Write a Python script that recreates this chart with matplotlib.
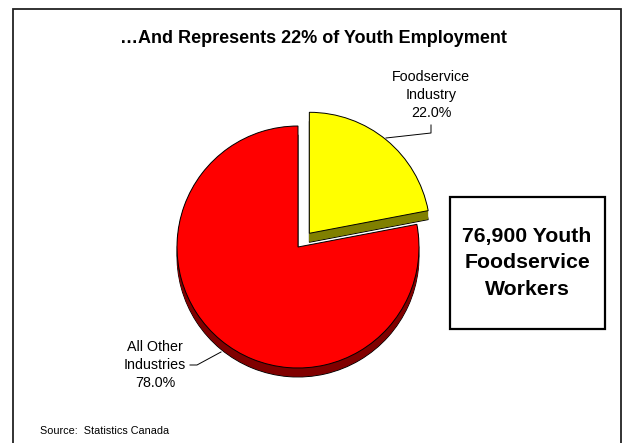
import matplotlib
matplotlib.use("Agg")
import matplotlib.pyplot as plt
import numpy as np
from matplotlib.patches import Rectangle

plt.rcParams["font.family"] = ["Liberation Sans", "DejaVu Sans"]

# --- data -------------------------------------------------------------
shares = [22.0, 78.0]
names = ["Foodservice\nIndustry", "All Other\nIndustries"]
top_colors = ["#FFFF00", "#FF0000"]
side_colors = ["#808000", "#800000"]
title = "\u2026And Represents 22% of Youth Employment"
callout = "76,900 Youth\nFoodservice\nWorkers"
source = "Source:  Statistics Canada"

# --- canvas in pixel units (y measured from the top) -------------------
W, H = 624, 443
fig = plt.figure(figsize=(W / 100, H / 100), dpi=100)
ax = fig.add_axes([0, 0, 1, 1])


def fy(y):
    return H - y


cx, cy, r = 298, 247, 121
depth = 9
# pull the first slice out by ~15% of the radius
explode = [0.147 * r, 0.0]

# extruded side of the pie: stacked darker copies shifted downward
for d in np.arange(depth, 0, -0.5):
    ax.pie(shares, colors=side_colors, startangle=90, counterclock=False,
           explode=explode, center=(cx, fy(cy) - d), radius=r, frame=True,
           wedgeprops=dict(linewidth=0.7 if d == depth else 0,
                           edgecolor="black"))

# top face
ax.pie(shares, colors=top_colors, startangle=90, counterclock=False,
       explode=explode, center=(cx, fy(cy)), radius=r, frame=True,
       wedgeprops=dict(linewidth=0.7, edgecolor="black"))

ax.set_xlim(0, W)
ax.set_ylim(0, H)
ax.set_aspect("auto")
ax.set_axis_off()

# slice labels with leader lines
lab_fs = 10.3
ax.text(431, fy(95), f"{names[0]}\n{shares[0]:.1f}%", ha="center",
        va="center", fontsize=lab_fs, linespacing=1.38)
ax.plot([431, 431, 386], [fy(125), fy(133), fy(138)], color="black", lw=0.7)

ax.text(155, fy(365), f"{names[1]}\n{shares[1]:.1f}%", ha="center",
        va="center", fontsize=lab_fs, linespacing=1.38)
ax.plot([190, 197, 221], [fy(365), fy(365), fy(352)], color="black", lw=0.7)

# title
ax.text(313, fy(38), title, ha="center", va="center", fontsize=13,
        fontweight="bold")

# callout box
ax.add_patch(Rectangle((450, fy(329)), 155, 132, fill=False,
                       edgecolor="black", linewidth=1.6))
ax.text(527, fy(263), callout, ha="center", va="center", fontsize=15.3,
        fontweight="bold", linespacing=1.53)

# source note
ax.text(40, fy(431), source, ha="left", va="center", fontsize=7.8)

# outer frame (continues past the bottom edge)
ax.add_patch(Rectangle((13, fy(470)), 608, 461, fill=False,
                       edgecolor="#222222", linewidth=1.3, clip_on=False))

fig.savefig("out.png", dpi=100)
